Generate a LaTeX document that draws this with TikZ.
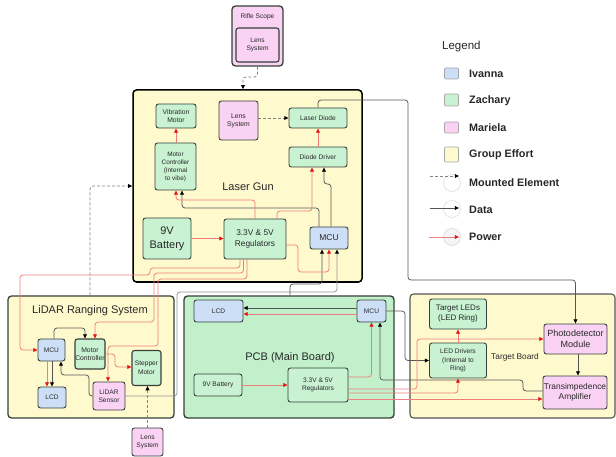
\documentclass[tikz,border=0pt]{standalone}
\usepackage{fontspec}
\setmainfont{Liberation Sans}
\usetikzlibrary{arrows.meta}
\definecolor{cyel}{RGB}{255,250,205}
\definecolor{cgrn}{RGB}{200,242,210}
\definecolor{cpcb}{RGB}{194,240,203}
\definecolor{cblu}{RGB}{205,223,247}
\definecolor{cpnk}{RGB}{250,210,243}
\definecolor{cbrd}{RGB}{55,65,58}
\definecolor{ctxt}{RGB}{40,40,40}
\definecolor{cpl}{RGB}{238,125,125}
\definecolor{cred}{RGB}{228,20,20}
\definecolor{cdl}{RGB}{85,85,85}
\definecolor{cdash}{RGB}{130,130,130}
\newcommand{\fsz}[2]{\fontsize{#1}{#2}\selectfont}
\begin{document}
\begin{tikzpicture}[x=1pt,y=-1pt,
  el/.style={draw=cbrd, line width=0.9pt, rounded corners=2.5pt, inner sep=0pt, align=center, text=ctxt},
  gn/.style={el, fill=cgrn},
  bl/.style={el, fill=cblu},
  pk/.style={el, fill=cpnk},
  grp/.style={draw=#1, line width=1.3pt, rounded corners=3.5pt, fill=cyel, inner sep=0pt},
  ttl/.style={text=ctxt, inner sep=0pt},
  legsq/.style={draw=gray!70, line width=0.6pt, rounded corners=1pt, minimum width=14pt, inner sep=0pt},
  legtx/.style={text=ctxt, inner sep=0pt, anchor=west, font=\bfseries\fsz{10.8}{12}},
  pw/.style={draw=cpl, line width=0.75pt, rounded corners=3pt, -{Triangle[length=4.2pt,width=3.8pt,color=cred]}},
  dt/.style={draw=cdl, line width=0.75pt, rounded corners=3pt, -{Triangle[length=4.2pt,width=3.8pt,color=black]}},
  mt/.style={draw=cdash, line width=0.8pt, dash pattern=on 3pt off 2pt, rounded corners=3pt, -{Triangle[length=4.2pt,width=3.8pt,color=black]}},
]
\fill[white] (0,0) rectangle (616,457);
\useasboundingbox (0,0) rectangle (616,457);

% ---------- groups ----------
\node[pk, line width=1.3pt, rounded corners=3.5pt, minimum width=51pt, minimum height=60pt] (scope) at (257.5,36) {};
\node[ttl, font=\fsz{6.6}{8}] (scopet) at (257.5,17) {Rifle Scope};
\node[pk, line width=1.1pt, minimum width=43pt, minimum height=34pt, font=\fsz{6.6}{8.2}] (lens0) at (257.5,45) {Lens\\System};

\node[grp=black, line width=1.5pt, minimum width=229pt, minimum height=192pt] (lg) at (247.5,186) {};
\node[grp=cbrd, minimum width=166pt, minimum height=122pt] (lid) at (91,357) {};
\node[draw=cbrd, line width=1.4pt, rounded corners=3.5pt, fill=cpcb, minimum width=210pt, minimum height=122pt, inner sep=0pt] (pcb) at (289,357) {};
\node[grp=cdl, line width=1.1pt, minimum width=205pt, minimum height=124pt] (tb) at (512.5,356) {};

\node[ttl, font=\fsz{11}{13}] (lgt) at (248,187) {Laser Gun};
\node[ttl, font=\fsz{11}{13}] (lidt) at (90,311) {LiDAR Ranging System};
\node[ttl, font=\fsz{11}{13}] (pcbt) at (290,358) {PCB (Main Board)};
\node[ttl, font=\fsz{8.3}{10}] (tbt) at (515,357) {Target Board};

% ---------- laser gun ----------
\node[gn, minimum width=40pt, minimum height=24pt, font=\fsz{6.8}{8.2}] (vib) at (176,116) {Vibration\\Motor};
\node[pk, minimum width=39pt, minimum height=39pt, font=\fsz{6.8}{8.2}] (lens1) at (238.5,120.5) {Lens\\System};
\node[gn, minimum width=58pt, minimum height=20pt, font=\fsz{6.6}{8}] (ld) at (318,118) {Laser Diode};
\node[gn, minimum width=41pt, minimum height=47pt, font=\fsz{6.4}{8}] (mc1) at (175.5,166.5) {Motor\\Controller\\(Internal\\to vibe)};
\node[gn, minimum width=58pt, minimum height=20pt, font=\fsz{6.6}{8}] (dd) at (318,157) {Diode Driver};
\node[gn, minimum width=48pt, minimum height=41pt, font=\fsz{11}{14}] (bat1) at (167,238.5) {9V\\Battery};
\node[gn, minimum width=62pt, minimum height=40pt, font=\fsz{8.3}{11}] (reg1) at (255,239) {3.3V \& 5V\\Regulators};
\node[bl, minimum width=38pt, minimum height=22pt, font=\fsz{8.5}{10}] (mcu1) at (329,238) {MCU};

% ---------- LiDAR ----------
\node[bl, minimum width=27pt, minimum height=22pt, font=\fsz{6.6}{8}] (mcu2) at (51.5,350) {MCU};
\node[gn, line width=1.1pt, minimum width=30pt, minimum height=30pt, font=\fsz{6.8}{8.4}] (mc2) at (90,354) {Motor\\Controller};
\node[bl, minimum width=28pt, minimum height=21pt, font=\fsz{6.6}{8}] (lcd2) at (52,397.5) {LCD};
\node[pk, minimum width=32pt, minimum height=28pt, font=\fsz{6.6}{8.4}] (sen) at (109,396) {LiDAR\\Sensor};
\node[gn, line width=1.1pt, minimum width=29pt, minimum height=35pt, font=\fsz{6.6}{8.6}] (step) at (146.5,368) {Stepper\\Motor};
\node[pk, minimum width=31pt, minimum height=28pt, font=\fsz{6.6}{8.4}] (lens2) at (147.5,442) {Lens\\System};

% ---------- PCB ----------
\node[bl, minimum width=49pt, minimum height=22pt, font=\fsz{6.6}{8}] (lcd3) at (218.5,311) {LCD};
\node[bl, minimum width=29pt, minimum height=22pt, font=\fsz{6.6}{8}] (mcu3) at (371.5,311) {MCU};
\node[gn, minimum width=48pt, minimum height=22pt, font=\fsz{6.6}{8}] (bat3) at (218,385) {9V Battery};
\node[gn, minimum width=60pt, minimum height=34pt, font=\fsz{6.6}{8.4}] (reg3) at (318,385) {3.3V \& 5V\\Regulators};

% ---------- target board ----------
\node[gn, minimum width=57pt, minimum height=30pt, font=\fsz{8}{10}] (tled) at (458,314) {Target LEDs\\(LED Ring)};
\node[gn, minimum width=57pt, minimum height=35pt, font=\fsz{6.6}{8.4}] (ledd) at (458,360.5) {LED Drivers\\(Internal to\\Ring)};
\node[pk, minimum width=63pt, minimum height=30pt, font=\fsz{9}{11}] (pd) at (575.5,339) {Photodetector\\Module};
\node[pk, minimum width=64pt, minimum height=33pt, font=\fsz{8.4}{10.5}] (tia) at (575,392.5) {Transimpedence\\Amplifier};

% ---------- mounted ----------
\draw[mt] (scope.south) -- (257.5,77) -- (243,77) -- (lg.north -| 243,0);
\draw[mt] (lens1.east |- ld.west) -- (ld.west);
\draw[mt] (lid.north -| 90,0) -- (90,186) -- (lg.west |- 0,186);
\draw[mt] (lens2.north) -- (step.south -| lens2.north);

% ---------- data ----------
\draw[dt] (ld.north) -- (318,100) -- (408,100) -- (408,280) -- (575.5,280) -- (pd.north);
\draw[dt] (mcu1.north -| 319,0) -- (319,208) -- (182,208) -- (mc1.south -| 182,0);
\draw[dt] (mcu1.north -| 331,0) -- (331,184) -- (324,184) -- (dd.south -| 324,0);
\draw[dt] (pd.south -| 578,0) -- (tia.north -| 578,0);
\draw[dt] (mcu2.north -| 54,0) -- (54,328) -- (85,328) -- (mc2.north -| 85,0);
\draw[dt] (mcu2.south -| 52,0) -- (lcd2.north -| 52,0);
\draw[dt] (sen.west) -- (89,396) -- (89,375) -- (61,375) -- (mcu2.south -| 61,0);
\draw[dt, draw=gray!85] (sen.east) -- (177,396) -- (177,292) -- (337,292) -- (mcu1.south -| 337,0);
\draw[dt] (pcb.north -| 290,0) -- (290,284) -- (322,284) -- (mcu1.south -| 322,0);
\draw[dt] (mcu3.west |- 0,308) -- (lcd3.east |- 0,308);
\draw[dt] (mcu3.east) -- (405,311) -- (405,360.5) -- (ledd.west);
\draw[dt] (tia.west |- 0,391) -- (523,391) -- (523,380) -- (380,380) -- (mcu3.south -| 380,0);

% ---------- power ----------
\draw[pw] (mc1.north -| 176,0) -- (vib.south -| 176,0);
\draw[pw] (dd.north) -- (ld.south);
\draw[pw] (bat1.east) -- (reg1.west |- bat1.east);
\draw[pw] (reg1.north) -- (255,200) -- (176,200) -- (mc1.south -| 176,0);
\draw[pw] (reg1.north -| 277,0) -- (277,211) -- (312,211) -- (dd.south -| 312,0);
\draw[pw] (reg1.east |- 0,245) -- (298,245) -- (298,272) -- (329,272) -- (mcu1.south);
\draw[pw] (reg1.south -| 240,0) -- (240,268) -- (150,268) -- (150,275) -- (20,275) -- (20,350) -- (mcu2.west);
\draw[pw] (reg1.south -| 243.5,0) -- (243.5,273) -- (154,273) -- (154,322) -- (95,322) -- (mc2.north -| 95,0);
\draw[pw] (reg1.south -| 247,0) -- (247,279) -- (158,279) -- (158,346) -- (108,346) -- (sen.north -| 108,0);
\draw[pw] (mc2.east) -- (115,354) -- (115,367) -- (step.west |- 0,367);
\draw[pw] (mcu2.south -| 47,0) -- (lcd2.north -| 47,0);
\draw[pw] (mcu3.west |- 0,314) -- (lcd3.east |- 0,314);
\draw[pw] (bat3.east) -- (reg3.west);
\draw[pw] (reg3.east |- 0,377) -- (371.5,377) -- (mcu3.south);
\draw[pw] (reg3.east |- 0,389) -- (417,389) -- (417,339) -- (pd.west);
\draw[pw] (reg3.east |- 0,393) -- (458,393) -- (ledd.south);
\draw[pw] (reg3.east |- 0,399) -- (tia.west |- 0,399);
\draw[pw] (ledd.north) -- (tled.south);

% ---------- legend ----------
\node[ttl, anchor=west, font=\fsz{11.5}{13}] (legt) at (442,47) {Legend};
\node[legsq, fill=cblu, minimum height=11pt] (lsq1) at (451.5,73.5) {};
\node[legsq, fill=cgrn, minimum height=12pt] (lsq2) at (451.5,100) {};
\node[legsq, fill=cpnk, minimum height=11pt] (lsq3) at (451.5,127.5) {};
\node[legsq, fill=cyel, minimum height=15pt] (lsq4) at (451.5,154.5) {};
\node[legtx] (ltx1) at (469,73.5) {Ivanna};
\node[legtx] (ltx2) at (469,101) {Zachary};
\node[legtx] (ltx3) at (469,128) {Mariela};
\node[legtx] (ltx4) at (469,155) {Group Effort};
\node[legtx] (ltx5) at (469,183) {Mounted Element};
\node[legtx] (ltx6) at (469,210) {Data};
\node[legtx] (ltx7) at (469,237) {Power};
\draw[gray!20, line width=0.8pt] (452,183) circle[radius=8.5pt];
\draw[gray!20, line width=0.8pt] (452,209) circle[radius=8.5pt];
\draw[gray!25, fill=gray!8, line width=0.8pt] (452,237) circle[radius=8.5pt];
\coordinate (la1) at (430,176); \coordinate (lb1) at (459,176);
\coordinate (la2) at (430,208); \coordinate (lb2) at (459,208);
\coordinate (la3) at (429,237); \coordinate (lb3) at (459,237);
\draw[mt] (la1) -- (lb1);
\draw[dt] (la2) -- (lb2);
\draw[pw] (la3) -- (lb3);
\end{tikzpicture}
\end{document}
